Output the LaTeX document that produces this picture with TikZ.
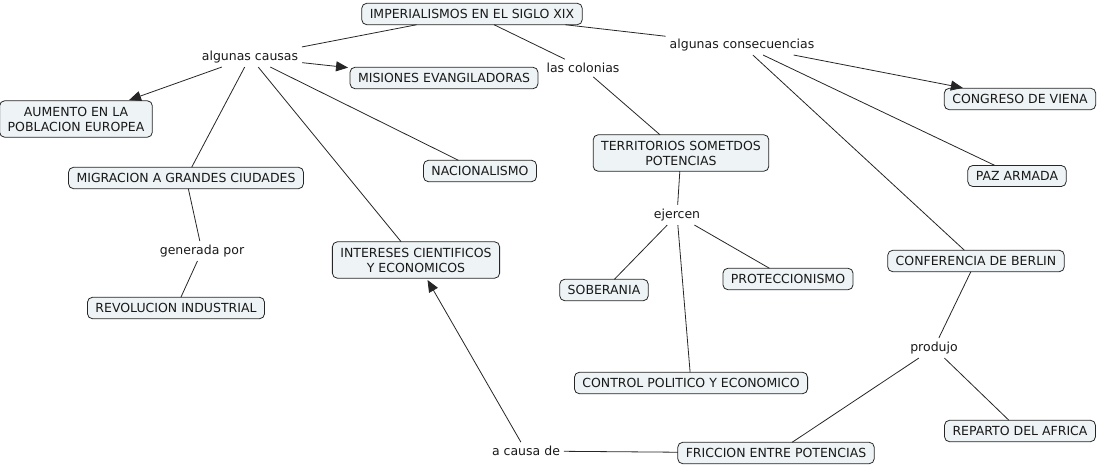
\documentclass[tikz,border=0pt]{standalone}
\usepackage{fontspec}
\setmainfont{DejaVu Sans}
\usepackage{tkz-graph}
\usetikzlibrary{arrows.meta}
\usetikzlibrary{shapes}

\definecolor{conceptFill}{RGB}{238,243,245}

\begin{document}
\begin{tikzpicture}[x = 1pt, y = -1pt, font = \fontsize{12.5}{15}\selectfont]
	\useasboundingbox (0,0) rectangle (1097,468);
	\tikzstyle{VertexStyle} = []
	\tikzstyle{EdgeStyle} = [line width = 0.8pt, draw = black!85]
	\tikzstyle{conceptStyle}=[shape = rectangle, rounded corners = 5pt, draw = black!85, line width = 0.8pt, fill = conceptFill, text = black!90, align = center, inner xsep = 8pt, inner ysep = 6pt]
	\tikzstyle{phraseStyle}=[shape = rectangle, inner sep = 4pt, text = black!90]
	\tikzstyle{arrowStyle}=[-{Triangle[length = 12pt, width = 10pt]}, shorten > = 2pt]
	\Vertex[style = conceptStyle, x = 472, y = 14, L = {IMPERIALISMOS EN EL SIGLO XIX}]{c0}
	\Vertex[style = conceptStyle, x = 444, y = 78, L = {MISIONES EVANGILADORAS}]{c1}
	\Vertex[style = conceptStyle, x = 76, y = 119, L = {AUMENTO EN LA\\POBLACION EUROPEA}]{c2}
	\Vertex[style = conceptStyle, x = 186, y = 178, L = {MIGRACION A GRANDES CIUDADES}]{c3}
	\Vertex[style = conceptStyle, x = 480, y = 171, L = {NACIONALISMO}]{c4}
	\Vertex[style = conceptStyle, x = 176, y = 308, L = {REVOLUCION INDUSTRIAL}]{c5}
	\Vertex[style = conceptStyle, x = 416, y = 260, L = {INTERESES CIENTIFICOS\\Y ECONOMICOS}]{c6}
	\Vertex[style = conceptStyle, x = 1020, y = 99, L = {CONGRESO DE VIENA}]{c7}
	\Vertex[style = conceptStyle, x = 681, y = 153, L = {TERRITORIOS SOMETDOS\\POTENCIAS}]{c8}
	\Vertex[style = conceptStyle, x = 1017, y = 176, L = {PAZ ARMADA}]{c9}
	\Vertex[style = conceptStyle, x = 604, y = 290, L = {SOBERANIA}]{c10}
	\Vertex[style = conceptStyle, x = 788, y = 279, L = {PROTECCIONISMO}]{c11}
	\Vertex[style = conceptStyle, x = 976, y = 261, L = {CONFERENCIA DE BERLIN}]{c12}
	\Vertex[style = conceptStyle, x = 691, y = 383, L = {CONTROL POLITICO Y ECONOMICO}]{c13}
	\Vertex[style = conceptStyle, x = 1020, y = 431, L = {REPARTO DEL AFRICA}]{c14}
	\Vertex[style = conceptStyle, x = 776, y = 453, L = {FRICCION ENTRE POTENCIAS}]{c15}
	\Vertex[style = phraseStyle, x = 250, y = 57, L = {algunas causas}]{l0}
	\Vertex[style = phraseStyle, x = 583, y = 68, L = {las colonias}]{l1}
	\Vertex[style = phraseStyle, x = 742, y = 45, L = {algunas consecuencias}]{l2}
	\Vertex[style = phraseStyle, x = 202, y = 251, L = {generada por}]{l3}
	\Vertex[style = phraseStyle, x = 677, y = 215, L = {ejercen}]{l4}
	\Vertex[style = phraseStyle, x = 934, y = 348, L = {produjo}]{l5}
	\Vertex[style = phraseStyle, x = 526, y = 451, L = {a causa de}]{l6}
	\Edge(c0)(l0)
	\Edge(c0)(l1)
	\Edge(c0)(l2)
	\Edge[style = arrowStyle](l0)(c1)
	\Edge[style = arrowStyle](l0)(c2)
	\Edge(l0)(c3)
	\Edge(l0)(c6)
	\Edge(l0)(c4)
	\Edge(c3)(l3)
	\Edge(l3)(c5)
	\Edge(l1)(c8)
	\Edge(c8)(l4)
	\Edge(l4)(c10)
	\Edge(l4)(c11)
	\Edge(l4)(c13)
	\Edge[style = arrowStyle](l2)(c7)
	\Edge(l2)(c9)
	\Edge(l2)(c12)
	\Edge(c12)(l5)
	\Edge(l5)(c14)
	\Edge(l5)(c15)
	\Edge(c15)(l6)
	\Edge[style = arrowStyle](l6)(c6)
\end{tikzpicture}
\end{document}
